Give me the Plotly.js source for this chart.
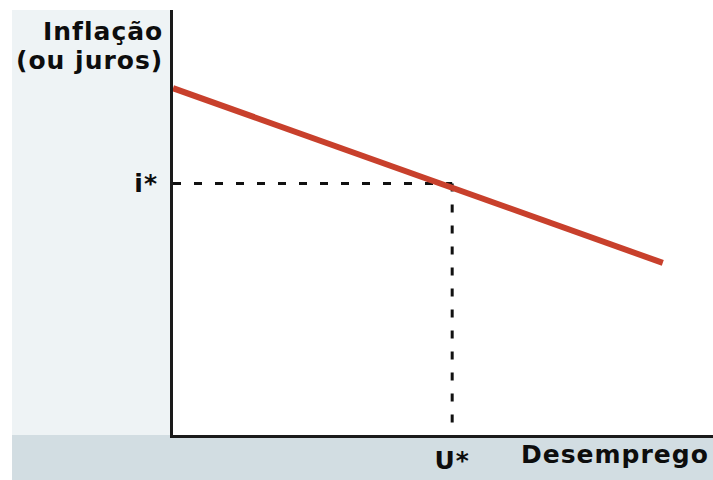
<!DOCTYPE html>
<html>
<head>
<meta charset="utf-8">
<script src="https://cdn.plot.ly/plotly-3.0.1.min.js"></script>
<style>html,body{margin:0;padding:0;background:#fff;}#chart{width:713px;height:480px;}</style>
</head>
<body>
<div id="chart"></div>
<script>
// Conceptual curve (data units: x = Desemprego, y = Inflação)
const curveX = [0, 9.07];
const curveY = [8.16, 4.05];
// Equilibrium point
const uStar = [5.17];
const iStar = [5.92];
const xTickLabels = ['U*'];
const yTickLabels = ['i*'];
const yTitleLines = ['Inflação', '(ou juros)'];
const xTitle = 'Desemprego';

const fontBold = {family: 'DejaVu Sans, Verdana, sans-serif', size: 25, color: '#0d0d0d', weight: 'bold'};
const sp = t => '<span style="letter-spacing:1px">' + t + '</span>';

const traces = [
  {x: [0, uStar[0]], y: [iStar[0], iStar[0]], mode: 'lines', hoverinfo: 'skip',
   line: {color: '#111', width: 3, dash: '8px,13px'}},
  {x: [uStar[0], uStar[0]], y: [iStar[0], 0], mode: 'lines', hoverinfo: 'skip',
   line: {color: '#111', width: 3, dash: '8px,13px'}},
  {x: curveX, y: curveY, mode: 'lines', hoverinfo: 'skip',
   line: {color: '#c8402c', width: 6}}
];

const layout = {
  width: 713, height: 480,
  margin: {l: 173, r: 0, t: 10, b: 45, pad: 0},
  paper_bgcolor: '#ffffff', plot_bgcolor: '#ffffff',
  showlegend: false,
  xaxis: {range: [0, 10], showgrid: false, zeroline: false, showline: true,
          linecolor: '#1a1a1a', linewidth: 3, ticks: '',
          tickvals: uStar, ticktext: xTickLabels.map(sp), tickfont: fontBold,
          ticklabelstandoff: 1, fixedrange: true},
  yaxis: {range: [0, 10], showgrid: false, zeroline: false, showline: true,
          linecolor: '#1a1a1a', linewidth: 3, ticks: '',
          tickvals: iStar, ticktext: yTickLabels.map(sp), tickfont: fontBold,
          ticklabelstandoff: 7, fixedrange: true},
  shapes: [
    {type: 'rect', xref: 'paper', yref: 'paper', x0: -0.2981, x1: 0, y0: 0, y1: 1,
     fillcolor: '#eef3f5', line: {width: 0}, layer: 'below'},
    {type: 'rect', xref: 'paper', yref: 'paper', x0: -0.2981, x1: 1, y0: -0.1059, y1: 0,
     fillcolor: '#d2dde2', line: {width: 0}, layer: 'below'}
  ],
  annotations: [
    {xref: 'paper', yref: 'paper', x: -0.0148, y: (435 - 31) / 425, xanchor: 'right', yanchor: 'middle',
     text: sp(yTitleLines[0]), showarrow: false, font: fontBold},
    {xref: 'paper', yref: 'paper', x: -0.0148, y: (435 - 60) / 425, xanchor: 'right', yanchor: 'middle',
     text: sp(yTitleLines[1]), showarrow: false, font: fontBold},
    {xref: 'paper', yref: 'paper', x: (615 - 173) / 540, y: (435 - 454) / 425, xanchor: 'center', yanchor: 'middle',
     text: sp(xTitle), showarrow: false, font: fontBold}
  ]
};

Plotly.newPlot('chart', traces, layout, {displayModeBar: false, staticPlot: true});
</script>
</body>
</html>
